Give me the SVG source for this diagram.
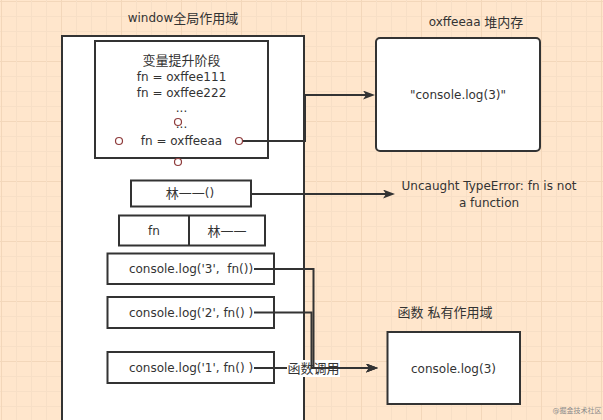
<svg xmlns="http://www.w3.org/2000/svg" width="603" height="420" viewBox="0 0 603 420">
<style>
text{font-family:"DejaVu Sans","Noto Sans CJK SC",sans-serif;font-size:12px;fill:#333;text-anchor:middle;dominant-baseline:central}
.cjk{font-size:13px}
.box{fill:#fff;stroke:#333;stroke-width:2}
.edge{fill:none;stroke:#333;stroke-width:2}
.pt{fill:#fff;stroke:#8e3b3b;stroke-width:1.2}
</style>
<defs>
<pattern id="grid" patternUnits="userSpaceOnUse" x="1" y="1" width="60" height="60">
<rect width="60" height="60" fill="#ffe6cc"/>
<rect x="0" y="0" width="60" height="1" fill="#f3d7ba"/>
<rect x="0" y="15" width="60" height="1" fill="#f7dfc6"/>
<rect x="0" y="30" width="60" height="1" fill="#f7dfc6"/>
<rect x="0" y="45" width="60" height="1" fill="#f7dfc6"/>
<rect x="0" y="0" width="1" height="60" fill="#f3d7ba"/>
<rect x="15" y="0" width="1" height="60" fill="#f7dfc6"/>
<rect x="30" y="0" width="1" height="60" fill="#f7dfc6"/>
<rect x="45" y="0" width="1" height="60" fill="#f7dfc6"/>
</pattern>
<marker id="arr" viewBox="0 0 12 9" refX="8" refY="4.5" markerWidth="12" markerHeight="9" markerUnits="userSpaceOnUse" orient="auto">
<path d="M0,0 L12,4.5 L0,9 L3,4.5 Z" fill="#333"/>
</marker>
</defs>
<rect width="603" height="420" fill="url(#grid)"/>

<g id="window">
<rect class="box" x="62" y="36" width="242" height="400"/>
<text x="183" y="18">window<tspan class="cjk">全局作用域</tspan></text>
</g>

<g id="hoist">
<rect class="box" x="95" y="41" width="173" height="117"/>
<text class="cjk" x="181.5" y="60">变量提升阶段</text>
<text x="181.5" y="76.5">fn = oxffee111</text>
<text x="181.5" y="92.5">fn = oxffee222</text>
<text x="181.5" y="108">...</text>
<text x="181.5" y="124">...</text>
<text x="181.5" y="141">fn = oxffeeaa</text>
<circle class="pt" cx="178" cy="122" r="3.5"/>
<circle class="pt" cx="119" cy="141" r="3.5"/>
<circle class="pt" cx="239" cy="141" r="3.5"/>
<circle class="pt" cx="178" cy="162" r="3.5"/>
</g>

<g id="heap">
<rect class="box" x="376" y="38" width="164" height="113" rx="4"/>
<text x="476" y="21.5">oxffeeaa <tspan class="cjk">堆内存</tspan></text>
<text x="458" y="95">"console.log(3)"</text>
</g>

<g id="call-lin">
<rect class="box" x="131" y="180.5" width="120" height="26"/>
<text x="190" y="193"><tspan class="cjk">林一一</tspan>()</text>
</g>

<g id="error">
<text x="489" y="186">Uncaught TypeError: fn is not</text>
<text x="489" y="202.5">a function</text>
</g>

<g id="fn-table">
<rect class="box" x="119" y="215.5" width="146" height="30"/>
<line x1="189" y1="215.5" x2="189" y2="245.5" stroke="#333" stroke-width="2"/>
<text x="154" y="231">fn</text>
<text class="cjk" x="227" y="231">林一一</text>
</g>

<g id="log3">
<rect class="box" x="107.5" y="253.5" width="166.5" height="30.5"/>
<text x="191" y="269">console.log('3', &#160;fn())</text>
</g>

<g id="log2">
<rect class="box" x="107.5" y="297" width="166.5" height="31"/>
<text x="191" y="312.5">console.log('2', fn() )</text>
</g>

<g id="log1">
<rect class="box" x="107.5" y="352" width="166.5" height="31"/>
<text x="191" y="368">console.log('1', fn() )</text>
</g>

<g id="private">
<rect class="box" x="387.5" y="332" width="132.5" height="72"/>
<text class="cjk" x="445" y="312.5">函数 私有作用域</text>
<text x="453.5" y="369">console.log(3)</text>
</g>

<g id="connectors">
<path class="edge" d="M243,141 H305 V95 H371" marker-end="url(#arr)"/>
<path class="edge" d="M251,194 H391" marker-end="url(#arr)"/>
<path class="edge" d="M254,368 H374" marker-end="url(#arr)"/>
<rect x="287" y="360" width="53" height="17" fill="#fff"/>
<text class="cjk" x="313.5" y="368">函数调用</text>
<path class="edge" d="M254,312.5 H311.5 V368 H374" marker-end="url(#arr)"/>
<path class="edge" d="M254,269 H313.5 V368 H374" marker-end="url(#arr)"/>
</g>

<text x="577" y="410.5" style="font-size:7px;fill:#8a8a8a">@掘金技术社区</text>
</svg>
